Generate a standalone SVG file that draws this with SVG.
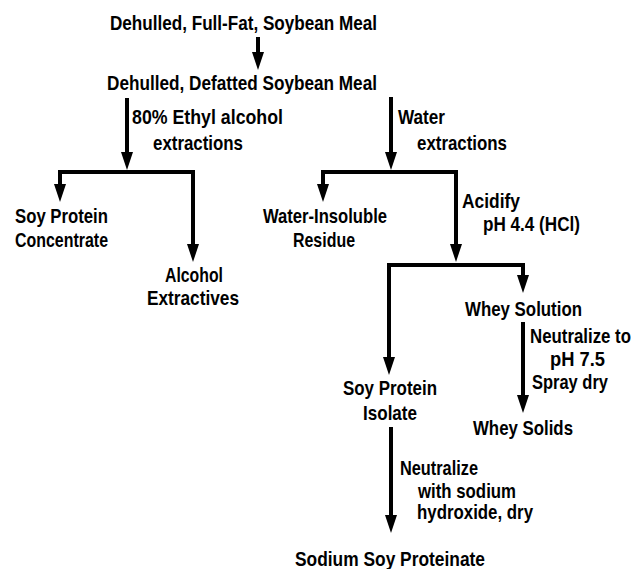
<svg xmlns="http://www.w3.org/2000/svg" width="640" height="569" viewBox="0 0 640 569">
<defs>
<marker id="ah" viewBox="0 0 18 12" refX="10" refY="6" markerWidth="18" markerHeight="12" markerUnits="userSpaceOnUse" orient="auto-start-reverse">
<path d="M0,0 L18,6 L0,12 z" fill="#000"/>
</marker>
<style>
text{font-family:"Liberation Sans",Arial,sans-serif;font-weight:bold;font-size:21px;fill:#000}
.c{fill:none;stroke:#000;stroke-width:4;stroke-linejoin:miter}
.a{marker-end:url(#ah)}
.b{marker-start:url(#ah);marker-end:url(#ah)}
</style>
</defs>
<rect width="640" height="569" fill="#fff"/>
<g id="connectors">
<path class="c a" d="M258,37 V62"/>
<path class="c a" d="M127,98 V162"/>
<path class="c b" d="M60,194 V172 H193 V254"/>
<path class="c a" d="M391,97 V162"/>
<path class="c b" d="M323,194 V172 H456 V254"/>
<path class="c b" d="M389,367 V265 H523 V285"/>
<path class="c a" d="M523,322 V405"/>
<path class="c a" d="M391,427 V525"/>
</g>
<g id="n_fullfat"><text x="110" y="30" textLength="267" lengthAdjust="spacingAndGlyphs">Dehulled, Full-Fat, Soybean Meal</text></g>
<g id="n_defatted"><text x="107" y="90" textLength="270" lengthAdjust="spacingAndGlyphs">Dehulled, Defatted Soybean Meal</text></g>
<g id="l_alcohol"><text x="132" y="124" textLength="151" lengthAdjust="spacingAndGlyphs">80% Ethyl alcohol</text><text x="153" y="150" textLength="90" lengthAdjust="spacingAndGlyphs">extractions</text></g>
<g id="l_water"><text x="398" y="124" textLength="47" lengthAdjust="spacingAndGlyphs">Water</text><text x="417" y="150" textLength="90" lengthAdjust="spacingAndGlyphs">extractions</text></g>
<g id="n_concentrate"><text x="15" y="223" textLength="93" lengthAdjust="spacingAndGlyphs">Soy Protein</text><text x="15" y="247" textLength="93" lengthAdjust="spacingAndGlyphs">Concentrate</text></g>
<g id="n_extractives"><text x="165" y="282" textLength="58" lengthAdjust="spacingAndGlyphs">Alcohol</text><text x="147" y="305" textLength="92" lengthAdjust="spacingAndGlyphs">Extractives</text></g>
<g id="n_residue"><text x="263" y="223" textLength="124" lengthAdjust="spacingAndGlyphs">Water-Insoluble</text><text x="293" y="247" textLength="62" lengthAdjust="spacingAndGlyphs">Residue</text></g>
<g id="l_acidify"><text x="462" y="208" textLength="58" lengthAdjust="spacingAndGlyphs">Acidify</text><text x="483" y="231" textLength="97" lengthAdjust="spacingAndGlyphs">pH 4.4 (HCl)</text></g>
<g id="n_whey"><text x="465" y="316" textLength="117" lengthAdjust="spacingAndGlyphs">Whey Solution</text></g>
<g id="l_neutralize_whey"><text transform="translate(530,343) scale(1,1.235)" style="font-size:17px" textLength="101" lengthAdjust="spacingAndGlyphs">Neutralize to</text><text x="550" y="366" textLength="55" lengthAdjust="spacingAndGlyphs">pH 7.5</text><text x="532" y="389" textLength="76" lengthAdjust="spacingAndGlyphs">Spray dry</text></g>
<g id="n_wheysolids"><text x="473" y="435" textLength="100" lengthAdjust="spacingAndGlyphs">Whey Solids</text></g>
<g id="n_isolate"><text x="343" y="395" textLength="94" lengthAdjust="spacingAndGlyphs">Soy Protein</text><text x="363" y="420" textLength="54" lengthAdjust="spacingAndGlyphs">Isolate</text></g>
<g id="l_neutralize_na"><text x="400" y="475" textLength="78" lengthAdjust="spacingAndGlyphs">Neutralize</text><text x="418" y="498" textLength="98" lengthAdjust="spacingAndGlyphs">with sodium</text><text x="417" y="519" textLength="116" lengthAdjust="spacingAndGlyphs">hydroxide, dry</text></g>
<g id="n_proteinate"><text x="295" y="566" textLength="190" lengthAdjust="spacingAndGlyphs">Sodium Soy Proteinate</text></g>
</svg>
